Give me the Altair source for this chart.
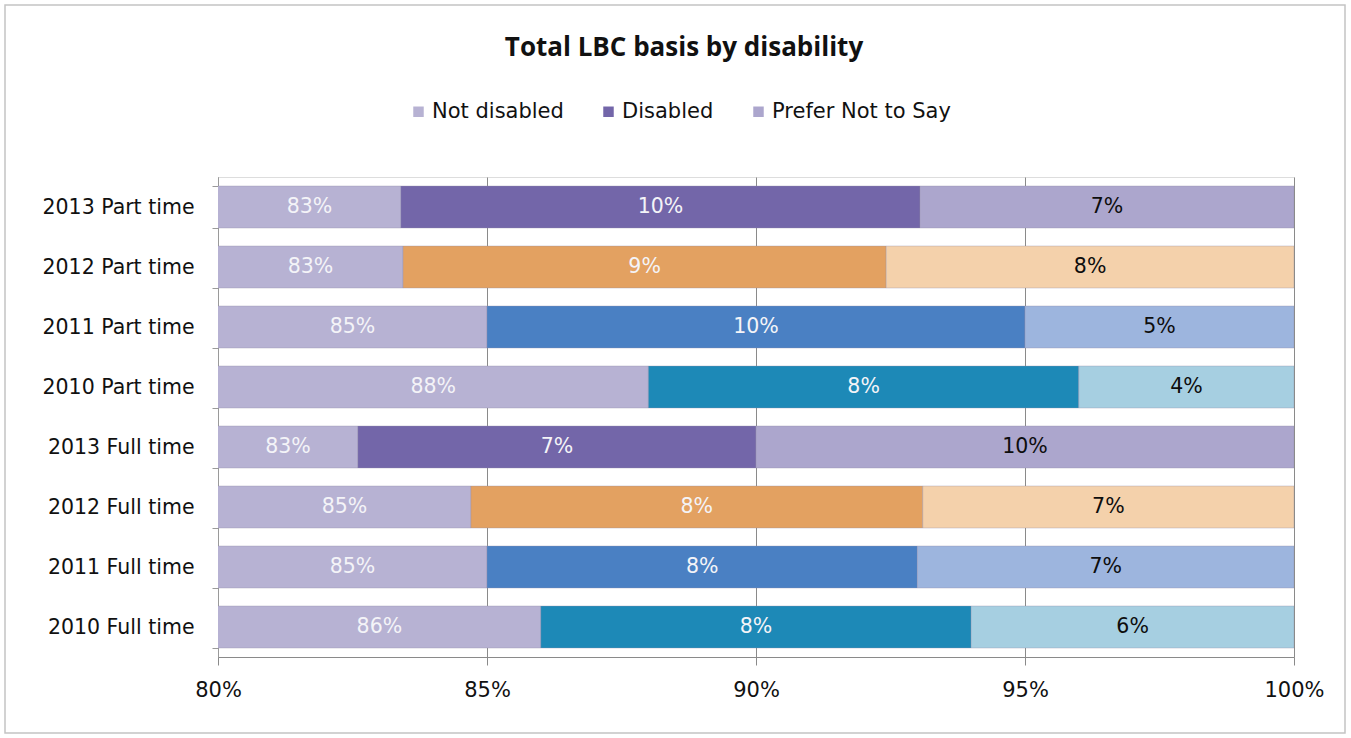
import altair as alt
import pandas as pd

rows = ["2013 Part time", "2012 Part time", "2011 Part time", "2010 Part time",
        "2013 Full time", "2012 Full time", "2011 Full time", "2010 Full time"]
not_disabled = [0.834, 0.8344, 0.850, 0.880, 0.826, 0.847, 0.850, 0.860]
disabled = [0.0965, 0.0898, 0.100, 0.080, 0.074, 0.084, 0.080, 0.080]
prefer_not = [0.0695, 0.0758, 0.050, 0.040, 0.100, 0.069, 0.070, 0.060]
segments = ["Not disabled", "Disabled", "Prefer Not to Say"]
years = ["2013", "2012", "2011", "2010"]
seg_colors = {
    "2013": ["#b7b2d3", "#7366a9", "#aca6cd"],
    "2012": ["#b7b2d3", "#e3a161", "#f4d1ab"],
    "2011": ["#b7b2d3", "#4a80c3", "#9db5de"],
    "2010": ["#b7b2d3", "#1d89b7", "#a6cfe1"],
}
x_ticks = [0.80, 0.85, 0.90, 0.95, 1.00]
x_min, x_max = 0.80, 1.00

recs = []
for i, r in enumerate(rows):
    yr = r.split()[0]
    vals = [not_disabled[i], disabled[i], prefer_not[i]]
    start = 0.0
    for s, v in zip(segments, vals):
        end = start + v
        vis0 = max(start, x_min)
        recs.append(dict(row=r, seg=s, key=f"{yr}|{s}", value=v, start=start,
                         end=end, mid=(vis0 + end) / 2))
        start = end
df = pd.DataFrame(recs)

keys = [f"{y}|{s}" for y in years for s in segments]
colors = [c for y in years for c in seg_colors[y]]

FONT = "DejaVu Sans"

base = alt.Chart(df)

bars = base.mark_bar(clip=True, stroke="#8f8aa8", strokeOpacity=0.35, strokeWidth=1).encode(
    y=alt.Y("row:N", sort=rows, title=None,
            scale=alt.Scale(paddingInner=0.3, paddingOuter=0.15),
            axis=alt.Axis(tickBand="extent", labelFontSize=20.5, labelFont=FONT,
                          labelColor="#111", labelPadding=18, tickSize=6,
                          tickColor="#9a9a9a", domainColor="#9a9a9a", grid=False,
                          labelLimit=400)),
    x=alt.X("start:Q", title=None,
            scale=alt.Scale(domain=[x_min, x_max], nice=False, zero=False),
            axis=alt.Axis(values=x_ticks, format=".0%", labelFontSize=21,
                          labelFont=FONT, labelColor="#111", labelPadding=14,
                          labelFlush=False,
                          tickSize=8, tickColor="#8a8a8a", domainColor="#8a8a8a",
                          grid=True, gridColor="#8a8a8a", gridWidth=1)),
    x2="end:Q",
    color=alt.Color("key:N", scale=alt.Scale(domain=keys, range=colors),
                    legend=alt.Legend(values=["2013|Not disabled", "2013|Disabled",
                                              "2013|Prefer Not to Say"],
                                      labelExpr="split(datum.label, '|')[1]",
                                      title=None, orient="none", direction="horizontal",
                                      legendX=190, legendY=-76,
                                      symbolType="square", symbolSize=110,
                                      symbolStrokeWidth=0, labelLimit=400,
                                      labelFont=FONT, labelFontSize=21,
                                      labelColor="#111", columnPadding=34,
                                      labelOffset=3)),
)

labels = base.mark_text(font=FONT, fontSize=20.5, baseline="middle").encode(
    y=alt.Y("row:N", sort=rows),
    x=alt.X("mid:Q"),
    text=alt.Text("value:Q", format=".0%"),
    color=alt.condition(alt.datum.seg == "Prefer Not to Say",
                        alt.value("#0d0d0d"), alt.value("#f4f4f8")),
)

border = alt.Chart(pd.DataFrame({"a": [0]})).mark_rect(
    filled=False, stroke="#c4c4c4", strokeWidth=1.5
).encode(x=alt.value(-213), x2=alt.value(1127), y=alt.value(-172), y2=alt.value(556))

chart = alt.layer(border, bars, labels).properties(
    width=1076, height=480,
    autosize=alt.AutoSizeParams(type="none"),
    padding={"left": 218, "top": 177, "right": 57, "bottom": 81},
    title=alt.TitleParams("Total LBC basis by disability", font="Open Sans", fontSize=26,
                          fontWeight="bold", color="#111", anchor="middle",
                          offset=-57, dx=-72),
).configure_view(stroke=None).configure(background="white")

chart.save("out.html", embed_options={"renderer": "svg", "actions": False})
